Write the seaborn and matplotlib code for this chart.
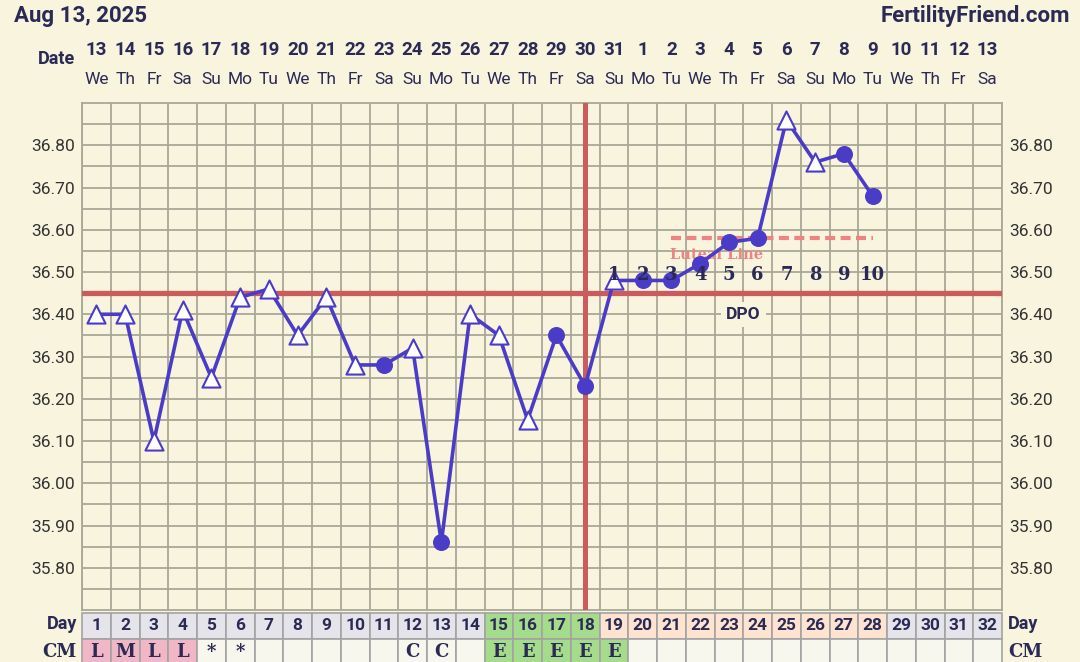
import numpy as np
import pandas as pd
import matplotlib
matplotlib.use("Agg")
import matplotlib.pyplot as plt
import seaborn as sns

# cycle data
days = list(range(1, 33))
dates = [str(d) for d in range(13, 32)] + [str(d) for d in range(1, 14)]
weekdays = (["We", "Th", "Fr", "Sa", "Su", "Mo", "Tu"] * 5)[:32]
temp_days = list(range(1, 29))
temps = [36.40, 36.40, 36.10, 36.41, 36.25, 36.44, 36.46, 36.35, 36.44, 36.28,
         36.28, 36.32, 35.86, 36.40, 36.35, 36.15, 36.35, 36.23, 36.48, 36.48,
         36.48, 36.52, 36.57, 36.58, 36.86, 36.76, 36.78, 36.68]
marker_kind = ["open"] * 10 + ["closed", "open", "closed", "open", "open", "open",
               "closed", "closed", "open"] + ["closed"] * 5 + ["open", "open", "closed", "closed"]
coverline = 36.45
ovulation_day = 18
luteal_days = [21, 28]
luteal_temp = 36.58
dpo_days = list(range(19, 29))
dpo_labels = [str(i) for i in range(1, 11)]
cm_values = ["L", "M", "L", "L", "*", "*", "", "", "", "", "", "C", "C", "",
             "E", "E", "E", "E", "E"] + [""] * 13
day_phase = ["pre"] * 14 + ["fertile"] * 4 + ["luteal"] * 10 + ["future"] * 4
cm_phase = ["period"] * 4 + ["none"] * 10 + ["fertile"] * 5 + ["none"] * 13
ytick_vals = [35.80, 35.90, 36.00, 36.10, 36.20, 36.30, 36.40, 36.50, 36.60, 36.70, 36.80]

BG = "#f8f4de"
NAVY = "#2b2a55"
PURPLE = "#4b3cc8"
GRID = "#a9a797"
RED = "#cb5c5e"
SALMON = "#f08282"

sns.set_theme(style="white")
plt.rcParams["font.family"] = ["Roboto", "DejaVu Sans"]

df = pd.DataFrame({"day": temp_days, "temp": temps, "kind": marker_kind})

fig = plt.figure(figsize=(10.8, 6.62), dpi=100, facecolor=BG)
W, H = 1080, 662
ax = fig.add_axes([82 / W, (H - 610) / H, 920 / W, 507 / H])
ax.set_facecolor(BG)
ax.set_xlim(0.5, 32.5)
ax.set_ylim(35.70, 36.90)

# grid
ax.set_xticks(np.arange(0.5, 33, 1))
ax.set_xticklabels([])
ax.set_yticks(ytick_vals)
ax.set_yticklabels(["%.2f" % v for v in ytick_vals])
ax.set_yticks(np.arange(35.75, 36.90, 0.1), minor=True)
ax.grid(True, which="both", color=GRID, lw=1.3)
ax.tick_params(axis="both", which="both", length=0)
ax.tick_params(axis="y", labelsize=12.5, labelcolor="#333333", pad=5,
               labelright=True, labelleft=True)
for s in ax.spines.values():
    s.set_color(GRID)
    s.set_linewidth(1.3)

# coverline and ovulation line
ax.axhline(coverline, color=RED, lw=3.8, zorder=3)
ax.axvline(ovulation_day, color=RED, lw=3.6, zorder=3)

# luteal line
ax.plot(luteal_days, [luteal_temp, luteal_temp], color=SALMON, lw=3, dashes=(2.4, 1.3), zorder=3)
ax.text(luteal_days[0] - 0.05, 36.54, "Luteal Line", color=SALMON, fontsize=10.5,
        fontweight="bold", family="DejaVu Serif", ha="left", va="center", zorder=4)

# temperature line and markers
sns.lineplot(data=df, x="day", y="temp", sort=False, color=PURPLE, lw=2.6, ax=ax, zorder=5)
sns.scatterplot(data=df[df.kind == "open"], x="day", y="temp", marker="^", s=170,
                facecolor="white", edgecolor=PURPLE, linewidth=1.5, ax=ax, zorder=6)
sns.scatterplot(data=df[df.kind == "closed"], x="day", y="temp", marker="o", s=150,
                color=PURPLE, edgecolor=PURPLE, linewidth=0, ax=ax, zorder=6)
ax.set_xlabel("")
ax.set_ylabel("")

# DPO numbers
for d, lab in zip(dpo_days, dpo_labels):
    ax.text(d, 36.493, lab, ha="center", va="center", fontsize=13, fontweight="bold",
            family="DejaVu Serif", color=NAVY, zorder=7)
ax.text(23.5, 36.40, "DPO", ha="center", va="center", fontsize=12.5, fontweight="bold",
        color=NAVY, zorder=7, bbox=dict(boxstyle="square,pad=0.3", fc=BG, ec="none"))

# header rows
tr = ax.get_xaxis_transform()
for d, dt, wd in zip(days, dates, weekdays):
    ax.text(d, 1.1045, dt, transform=tr, ha="center", va="center", fontsize=13.5,
            fontweight="bold", color=NAVY, clip_on=False)
    ax.text(d, 1.0454, wd, transform=tr, ha="center", va="center", fontsize=12.5,
            color=NAVY, clip_on=False)
fig.text(75 / W, 1 - 59 / H, "Date", ha="right", va="center", fontsize=13,
         fontweight="bold", color=NAVY)
fig.text(14 / W, 1 - 16 / H, "Aug 13, 2025", ha="left", va="center", fontsize=16,
         fontweight="bold", color=NAVY)
fig.text(1070 / W, 1 - 16 / H, "FertilityFriend.com", ha="right", va="center", fontsize=16,
         fontweight="bold", color=NAVY)

# Day and CM rows
ax2 = fig.add_axes([82 / W, 0, 920 / W, 50 / H])
ax2.set_xlim(0.5, 32.5)
ax2.set_ylim(662, 612)
ax2.axis("off")
day_colors = {"pre": "#e4e4ea", "fertile": "#a5dc8c", "luteal": "#fde3d0", "future": "#e4e4ea"}
cm_colors = {"period": "#f2b7c7", "fertile": "#a5dc8c", "none": "#f7f7ee"}
ax2.bar(days, 26, bottom=612.5, width=1, color=[day_colors[p] for p in day_phase],
        edgecolor="#a3a3a3", linewidth=1.2, clip_on=False)
ax2.bar(days, 26, bottom=638.5, width=1, color=[cm_colors[p] for p in cm_phase],
        edgecolor="#a3a3a3", linewidth=1.2, clip_on=False)
for d, cm in zip(days, cm_values):
    ax2.text(d, 625, str(d), ha="center", va="center", fontsize=12.5, fontweight="bold",
             color=NAVY, clip_on=False)
    if cm:
        ax2.text(d, 652, cm, ha="center", va="center", fontsize=13, fontweight="bold",
                 family="DejaVu Serif", color=NAVY, clip_on=False)
ax2.text(0.33, 624, "Day", ha="right", va="center", fontsize=13, fontweight="bold",
         color=NAVY, clip_on=False)
ax2.text(0.33, 652, "CM", ha="right", va="center", fontsize=13, fontweight="bold",
         family="DejaVu Serif", color=NAVY, clip_on=False)
ax2.text(32.7, 624, "Day", ha="left", va="center", fontsize=13, fontweight="bold",
         color=NAVY, clip_on=False)
ax2.text(32.7, 652, "CM", ha="left", va="center", fontsize=13, fontweight="bold",
         family="DejaVu Serif", color=NAVY, clip_on=False)

fig.savefig("out.png", dpi=100, facecolor=BG)
